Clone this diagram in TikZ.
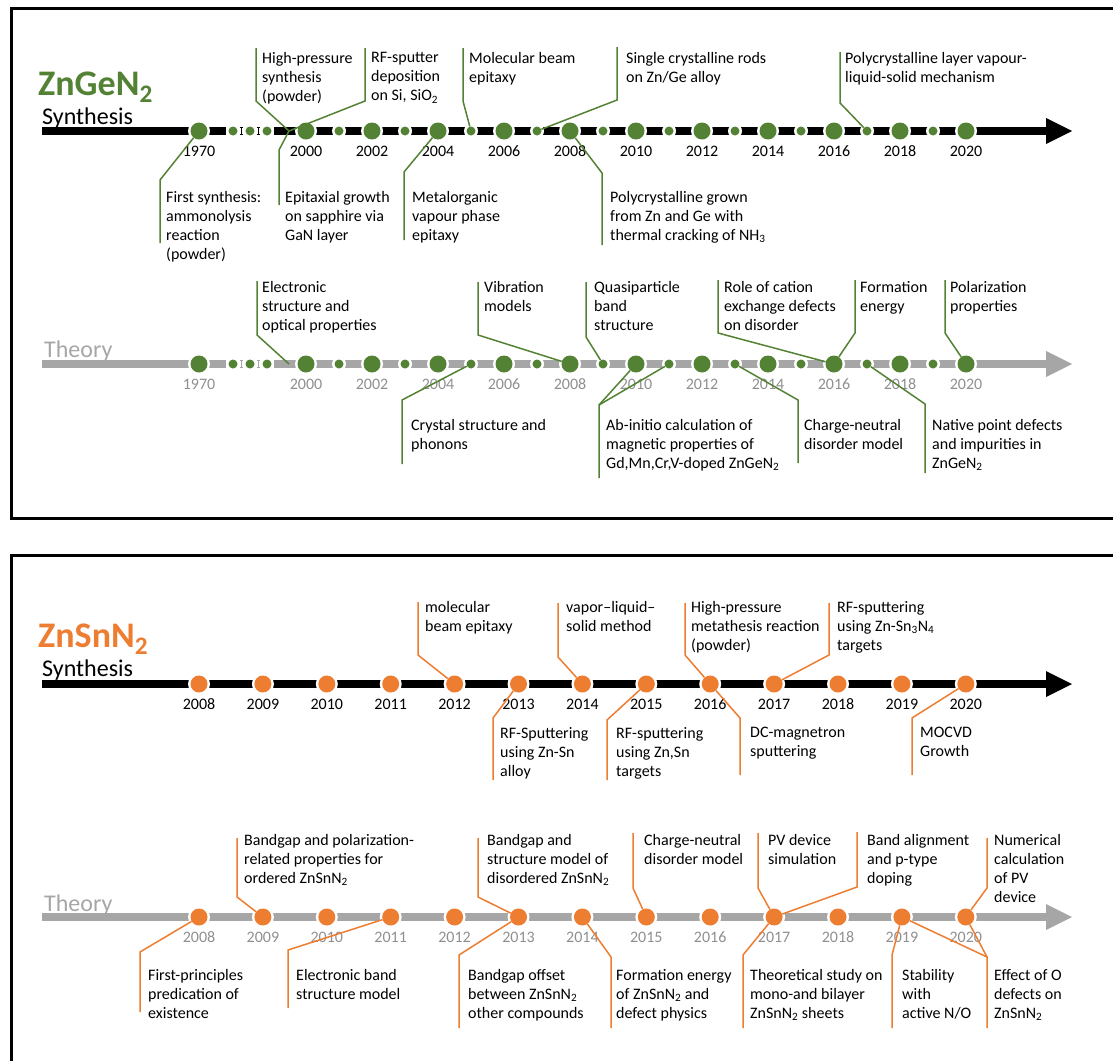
\documentclass[tikz,border=0pt]{standalone}
\usepackage{fontspec}
\setmainfont{Carlito}
\definecolor{zgreen}{HTML}{548235}
\definecolor{zorange}{HTML}{ED7D31}
\definecolor{zgrey}{HTML}{A6A6A6}
\definecolor{ygrey}{HTML}{8F8F8F}
\newcommand\lblfont{\fontsize{16}{19}\selectfont}
\newcommand\sub[1]{\textsubscript{#1}}
\begin{document}
\begin{tikzpicture}[x=1pt, y=-1pt,
    lbl/.style={anchor=north west, align=left, inner sep=0pt, font=\lblfont},
    yr/.style={inner sep=0pt, font=\lblfont},
    head/.style={anchor=base west, inner sep=0pt, font=\fontsize{24}{24}\selectfont},
    title/.style={anchor=base west, inner sep=0pt, font=\bfseries\fontsize{36}{36}\selectfont},
    axis/.style={line width=8pt},
    gdot/.style={circle, fill=zgreen, inner sep=0pt, minimum size=17pt},
    gsdot/.style={gdot, minimum size=9pt},
    odot/.style={gdot, fill=zorange},
    glead/.style={zgreen, line width=1.5pt},
    olead/.style={zorange, line width=1.5pt}
  ]
  \useasboundingbox (0,0) rectangle (1113,1060);
  \clip (0,0) rectangle (1113,1060);

  % frames
  \draw[line width=3pt] (1120,8) -- (11,8) -- (11,518) -- (1120,518);
  \draw[line width=3pt] (1120,555) -- (11,555) -- (11,1070);

  % ZnGeN2 timelines
  \node[title, text=zgreen] (gtitle) at (38,95) {ZnGeN\sub{2}};
  \node[head] (gsyn) at (42,124) {Synthesis};
  \node[head, text=zgrey] (gtheo) at (44,357) {Theory};

  \foreach \p/\r/\c/\t/\q in {s/131/black/black/ys, t/364/zgrey/ygrey/yt}{
    \draw[axis, \c] (42,\r) -- (226,\r) (274,\r) -- (1047,\r);
    \fill[\c] (1046,\r-13) -- (1072,\r) -- (1046,\r+13) -- cycle;
    \foreach \x in {241,258}
      \draw[\c, line width=1pt] (\x-1.5,\r-3.5) -- ++(3,0) (\x,\r-3.5) -- ++(0,7)
        (\x-1.5,\r+3.5) -- ++(3,0);
    \fill[white] (199,\r) circle (11pt);
    \node[gdot] (\p1970) at (199,\r) {};
    \foreach \x [count=\i] in {233,250,267}{
      \fill[white] (\x,\r) circle (7pt);
      \node[gsdot] (\p19\i) at (\x,\r) {};
    }
    \foreach \y [evaluate=\y as \x using 306+33*(\y-2000)] in {2000,...,2020}{
      \ifodd\y \def\k{gsdot}\def\w{7pt}\else\def\k{gdot}\def\w{11pt}\fi
      \fill[white] (\x,\r) circle (\w);
      \node[\k] (\p\y) at (\x,\r) {};
    }
    \node[yr, text=\t] (\q1970) at (199,\r+20) {1970};
    \foreach \y in {2000,2002,...,2020}
      \node[yr, text=\t] (\q\y) at ({306+33*(\y-2000)},\r+20) {\y};
    \coordinate (\p99) at (289,\r);
  }

  % ZnGeN2 synthesis notes
  \node[lbl] (a1) at (262,52) {High-pressure\\synthesis\\(powder)};
  \draw[glead] (s99) -- (256,101) -- (256,48) coordinate (a1e);
  \node[lbl] (a2) at (371,52) {RF-sputter\\deposition\\on Si, SiO\sub{2}};
  \draw[glead] (s99) -- (365,101) -- (365,48) coordinate (a2e);
  \node[lbl] (a3) at (469,52) {Molecular beam\\epitaxy};
  \draw[glead] (s2005) -- (463,101) -- (463,48) coordinate (a3e);
  \node[lbl] (a4) at (626,52) {Single crystalline rods\\on Zn/Ge alloy};
  \draw[glead] (s2007) -- (617,100) -- (617,47) coordinate (a4e);
  \node[lbl] (a5) at (845,52) {Polycrystalline layer vapour-\\liquid-solid mechanism};
  \draw[glead] (s2017) -- (840,103) -- (840,52) coordinate (a5e);

  \node[lbl] (b1) at (166,191) {First synthesis:\\ammonolysis\\reaction\\(powder)};
  \draw[glead] (s1970) -- (160,180) -- (160,243) coordinate (b1e);
  \node[lbl] (b2) at (285,191) {Epitaxial growth\\on sapphire via\\GaN layer};
  \draw[glead] (s99) -- (279,150) -- (279,205) coordinate (b2e);
  \node[lbl] (b3) at (412,191) {Metalorganic\\vapour phase\\epitaxy};
  \draw[glead] (s2004) -- (404,172) -- (404,240) coordinate (b3e);
  \node[lbl] (b4) at (610,191) {Polycrystalline grown\\from Zn and Ge with\\thermal cracking of NH\sub{3}};
  \draw[glead] (s2008) -- (602,173) -- (602,245) coordinate (b4e);

  % ZnGeN2 theory notes
  \node[lbl] (c1) at (262,281) {Electronic\\structure and\\optical properties};
  \draw[glead] (t99) -- (257,335) -- (257,281) coordinate (c1e);
  \node[lbl] (c2) at (484,281) {Vibration\\models};
  \draw[glead] (t2008) -- (478,335) -- (478,282) coordinate (c2e);
  \node[lbl] (c3) at (594,281) {Quasiparticle\\band\\structure};
  \draw[glead] (t2009) -- (586,337) -- (586,282) coordinate (c3e);
  \node[lbl] (c4) at (724,281) {Role of cation\\exchange defects\\on disorder};
  \draw[glead] (t2016) -- (718,333) -- (718,280) coordinate (c4e);
  \node[lbl] (c5) at (860,281) {Formation\\energy};
  \draw[glead] (t2016) -- (855,333) -- (855,280) coordinate (c5e);
  \node[lbl] (c6) at (950,281) {Polarization\\properties};
  \draw[glead] (t2020) -- (945,333) -- (945,280) coordinate (c6e);

  \node[lbl] (d1) at (411,419) {Crystal structure and\\phonons};
  \draw[glead] (t2005) -- (402,400) -- (402,464) coordinate (d1e);
  \node[lbl] (d2) at (606,419) {Ab-initio calculation of\\magnetic properties of\\Gd,Mn,Cr,V-doped ZnGeN\sub{2}};
  \draw[glead] (t2010) -- (599,405) coordinate (d2k) -- (599,478) coordinate (d2e);
  \draw[glead] (t2011) -- (d2k);
  \node[lbl] (d3) at (804,419) {Charge-neutral\\disorder model};
  \draw[glead] (t2013) -- (798,400) -- (798,463) coordinate (d3e);
  \node[lbl] (d4) at (932,419) {Native point defects\\and impurities in\\ZnGeN\sub{2}};
  \draw[glead] (t2017) -- (925,404) -- (925,473) coordinate (d4e);

  % ZnSnN2 timelines
  \node[title, text=zorange] (otitle) at (38,647) {ZnSnN\sub{2}};
  \node[head] (osyn) at (42,676) {Synthesis};
  \node[head, text=zgrey] (otheo) at (44,911) {Theory};

  \foreach \p/\r/\c/\t/\q in {n/684/black/black/yn, m/917/zgrey/ygrey/ym}{
    \draw[axis, \c] (42,\r) -- (1047,\r);
    \fill[\c] (1046,\r-13) -- (1072,\r) -- (1046,\r+13) -- cycle;
    \foreach \y [evaluate=\y as \x using 199+63.9*(\y-2008)] in {2008,...,2020}{
      \fill[white] (\x,\r) circle (11pt);
      \node[odot] (\p\y) at (\x,\r) {};
      \node[yr, text=\t] (\q\y) at (\x,\r+20) {\y};
    }
  }

  % ZnSnN2 synthesis notes
  \node[lbl] (e1) at (425,601) {molecular\\beam epitaxy};
  \draw[olead] (n2012) -- (418,655) -- (418,602) coordinate (e1e);
  \node[lbl] (e2) at (566,601) {vapor--liquid--\\solid method};
  \draw[olead] (n2014) -- (558,657) -- (558,603) coordinate (e2e);
  \node[lbl] (e3) at (691,601) {High-pressure\\metathesis reaction\\(powder)};
  \draw[olead] (n2016) -- (685,655) -- (685,603) coordinate (e3e);
  \node[lbl] (e4) at (837,601) {RF-sputtering\\using Zn-Sn\sub{3}N\sub{4}\\targets};
  \draw[olead] (n2017) -- (829,655) -- (829,603) coordinate (e4e);

  \node[lbl] (f1) at (500,727) {RF-Sputtering\\using Zn-Sn\\alloy};
  \draw[olead] (n2013) -- (493,718) -- (493,780) coordinate (f1e);
  \node[lbl] (f2) at (616,727) {RF-sputtering\\using Zn,Sn\\targets};
  \draw[olead] (n2015) -- (607,720) -- (607,780) coordinate (f2e);
  \node[lbl] (f3) at (750,727) {DC-magnetron\\sputtering};
  \draw[olead] (n2016) -- (740,718) -- (740,775) coordinate (f3e);
  \node[lbl] (f4) at (920,727) {MOCVD\\Growth};
  \draw[olead] (n2020) -- (912,718) -- (912,775) coordinate (f4e);

  % ZnSnN2 theory notes
  \node[lbl] (g1) at (244,834) {Bandgap and polarization-\\related properties for\\ordered ZnSnN\sub{2}};
  \draw[olead] (m2009) -- (237,897) -- (237,838) coordinate (g1e);
  \node[lbl] (g2) at (487,834) {Bandgap and\\structure model of\\disordered ZnSnN\sub{2}};
  \draw[olead] (m2013) -- (478,897) -- (478,838) coordinate (g2e);
  \node[lbl] (g3) at (644,834) {Charge-neutral\\disorder model};
  \draw[olead] (m2015) -- (633,888) -- (633,833) coordinate (g3e);
  \node[lbl] (g4) at (768,834) {PV device\\simulation};
  \draw[olead] (m2017) -- (758,888) -- (758,833) coordinate (g4e);
  \node[lbl] (g5) at (867,834) {Band alignment\\and p-type\\doping};
  \draw[olead] (m2017) -- (857,887) -- (857,832) coordinate (g5e);
  \node[lbl] (g6) at (994,834) {Numerical\\calculation\\of PV\\device};
  \draw[olead] (m2020) -- (987,888) -- (987,838) coordinate (g6e);

  \node[lbl] (h1) at (148,969) {First-principles\\predication of\\existence};
  \draw[olead] (m2008) -- (140,952) -- (140,1012) coordinate (h1e);
  \node[lbl] (h2) at (296,969) {Electronic band\\structure model};
  \draw[olead] (m2011) -- (288,950) -- (288,1008) coordinate (h2e);
  \node[lbl] (h3) at (468,969) {Bandgap offset\\between ZnSnN\sub{2}\\other compounds};
  \draw[olead] (m2013) -- (459,955) -- (459,1028) coordinate (h3e);
  \node[lbl] (h4) at (616,969) {Formation energy\\of ZnSnN\sub{2} and\\defect physics};
  \draw[olead] (m2014) -- (611,957) -- (611,1028) coordinate (h4e);
  \node[lbl] (h5) at (750,969) {Theoretical study on\\mono-and bilayer\\ZnSnN\sub{2} sheets};
  \draw[olead] (m2017) -- (743,955) -- (743,1028) coordinate (h5e);
  \node[lbl] (h6) at (902,969) {Stability\\with\\active N/O};
  \draw[olead] (m2019) -- (892,955) -- (892,1028) coordinate (h6e);
  \node[lbl] (h7) at (994,969) {Effect of O\\defects on\\ZnSnN\sub{2}};
  \draw[olead] (m2019) -- (987,957) coordinate (h7k) -- (987,1028) coordinate (h7e);
  \draw[olead] (m2020) -- (h7k);
\end{tikzpicture}
\end{document}
